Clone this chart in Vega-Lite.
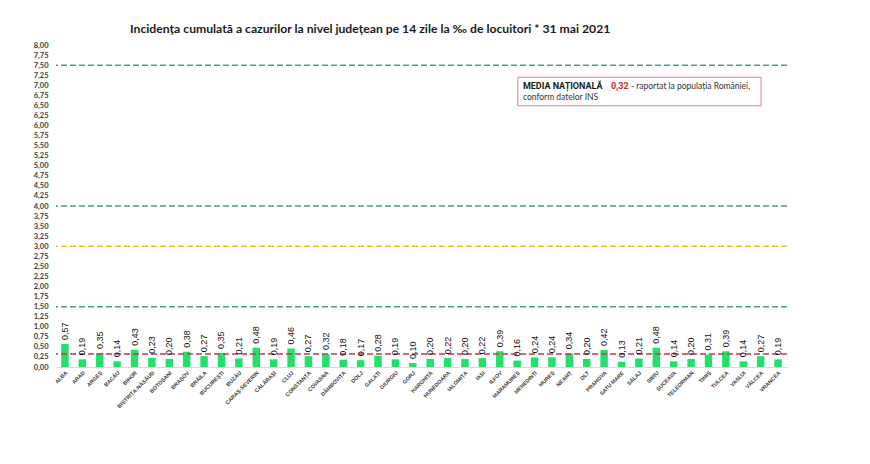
{
  "$schema": "https://vega.github.io/schema/vega-lite/v6.json",
  "width": 731,
  "height": 322,
  "autosize": {"type": "none"},
  "padding": {"left": 56, "top": 45, "right": 83, "bottom": 97},
  "background": "white",
  "config": {"view": {"stroke": null}, "font": "Lato"},
  "title": {
    "text": "Incidența cumulată a cazurilor la nivel județean pe 14 zile la ‰ de locuitori *  31 mai 2021",
    "anchor": "start",
    "frame": "group",
    "dx": 74,
    "offset": -7,
    "baseline": "bottom",
    "font": "Lato",
    "fontSize": 12.2,
    "fontWeight": "bold",
    "color": "#1a1a1a"
  },
  "data": {
    "values": [
      {"judet": "ALBA", "valoare": 0.57},
      {"judet": "ARAD", "valoare": 0.19},
      {"judet": "ARGEȘ", "valoare": 0.35},
      {"judet": "BACĂU", "valoare": 0.14},
      {"judet": "BIHOR", "valoare": 0.43},
      {"judet": "BISTRIȚA-NĂSĂUD", "valoare": 0.23},
      {"judet": "BOTOȘANI", "valoare": 0.20},
      {"judet": "BRAȘOV", "valoare": 0.38},
      {"judet": "BRĂILA", "valoare": 0.27},
      {"judet": "BUCUREȘTI", "valoare": 0.35},
      {"judet": "BUZĂU", "valoare": 0.21},
      {"judet": "CARAȘ-SEVERIN", "valoare": 0.48},
      {"judet": "CĂLĂRAȘI", "valoare": 0.19},
      {"judet": "CLUJ", "valoare": 0.46},
      {"judet": "CONSTANȚA", "valoare": 0.27},
      {"judet": "COVASNA", "valoare": 0.32},
      {"judet": "DÂMBOVIȚA", "valoare": 0.18},
      {"judet": "DOLJ", "valoare": 0.17},
      {"judet": "GALAȚI", "valoare": 0.28},
      {"judet": "GIURGIU", "valoare": 0.19},
      {"judet": "GORJ", "valoare": 0.10},
      {"judet": "HARGHITA", "valoare": 0.20},
      {"judet": "HUNEDOARA", "valoare": 0.22},
      {"judet": "IALOMIȚA", "valoare": 0.20},
      {"judet": "IAȘI", "valoare": 0.22},
      {"judet": "ILFOV", "valoare": 0.39},
      {"judet": "MARAMUREȘ", "valoare": 0.16},
      {"judet": "MEHEDINȚI", "valoare": 0.24},
      {"judet": "MUREȘ", "valoare": 0.24},
      {"judet": "NEAMȚ", "valoare": 0.34},
      {"judet": "OLT", "valoare": 0.20},
      {"judet": "PRAHOVA", "valoare": 0.42},
      {"judet": "SATU MARE", "valoare": 0.13},
      {"judet": "SĂLAJ", "valoare": 0.21},
      {"judet": "SIBIU", "valoare": 0.48},
      {"judet": "SUCEAVA", "valoare": 0.14},
      {"judet": "TELEORMAN", "valoare": 0.20},
      {"judet": "TIMIȘ", "valoare": 0.31},
      {"judet": "TULCEA", "valoare": 0.39},
      {"judet": "VASLUI", "valoare": 0.14},
      {"judet": "VÂLCEA", "valoare": 0.27},
      {"judet": "VRANCEA", "valoare": 0.19}
    ]
  },
  "encoding": {
    "x": {
      "field": "judet",
      "type": "nominal",
      "sort": null,
      "scale": {"paddingInner": 0.57, "paddingOuter": 0.3},
      "axis": {
        "title": null,
        "labelAngle": -45,
        "labelFontSize": 5.4,
        "labelFontWeight": "bold",
        "labelFont": "Liberation Sans",
        "labelColor": "#404040",
        "labelPadding": 3,
        "ticks": false,
        "domainColor": "#d9d9d9",
        "labelOverlap": false
      }
    },
    "y": {
      "field": "valoare",
      "type": "quantitative",
      "scale": {"domain": [0, 8], "nice": false},
      "axis": {
        "title": null,
        "values": [0, 0.25, 0.5, 0.75, 1, 1.25, 1.5, 1.75, 2, 2.25, 2.5, 2.75, 3, 3.25, 3.5, 3.75, 4, 4.25, 4.5, 4.75, 5, 5.25, 5.5, 5.75, 6, 6.25, 6.5, 6.75, 7, 7.25, 7.5, 7.75, 8],
        "labelExpr": "replace(format(datum.value, '.2f'), '.', ',')",
        "labelFontSize": 7.5,
        "labelFontWeight": "bold",
        "labelColor": "#404040",
        "labelPadding": 8,
        "ticks": false,
        "domain": false,
        "grid": false,
        "labelOverlap": false
      }
    }
  },
  "layer": [
    {
      "mark": {"type": "bar", "color": "#22e06b"}
    },
    {
      "data": {"values": [{"prag": 1.5}, {"prag": 4}, {"prag": 7.5}]},
      "mark": {"type": "rule", "color": "#4f9d84", "strokeDash": [6, 3], "strokeWidth": 1.5},
      "encoding": {"x": null, "y": {"field": "prag", "type": "quantitative"}}
    },
    {
      "data": {"values": [{"prag": 3}]},
      "mark": {"type": "rule", "color": "#d6cb2e", "strokeDash": [6, 3], "strokeWidth": 1.5},
      "encoding": {"x": null, "y": {"field": "prag", "type": "quantitative"}}
    },
    {
      "data": {"values": [{"prag": 0.32}]},
      "mark": {"type": "rule", "color": "#cf3347", "strokeDash": [6, 3], "strokeWidth": 1.5},
      "encoding": {"x": null, "y": {"field": "prag", "type": "quantitative"}}
    },
    {
      "transform": [
        {"calculate": "replace(format(datum.valoare, '.2f'), '.', ',')", "as": "eticheta"}
      ],
      "mark": {
        "type": "text",
        "angle": 270,
        "align": "left",
        "baseline": "middle",
        "dx": 4,
        "font": "Liberation Sans",
        "fontSize": 9,
        "color": "#111111"
      },
      "encoding": {
        "text": {"field": "eticheta"}
      }
    },
    {
      "transform": [{"filter": "datum.judet == 'MARAMUREȘ'"}],
      "mark": {"type": "rect", "fill": "white", "stroke": "#c9879a", "strokeWidth": 1},
      "encoding": {
        "x": {"field": "judet", "type": "nominal", "sort": null, "bandPosition": 0.6},
        "x2": {"datum": "VÂLCEA", "bandPosition": 0.55},
        "y": {"datum": 7.2},
        "y2": {"datum": 6.49}
      }
    },
    {
      "transform": [{"filter": "datum.judet == 'MARAMUREȘ'"}],
      "mark": {"type": "text", "align": "left", "baseline": "middle", "dx": 5, "font": "Roboto", "fontSize": 9, "fontWeight": "bold", "color": "#1a1a1a", "text": "MEDIA NAȚIONALĂ"},
      "encoding": {
        "x": {"field": "judet", "type": "nominal", "sort": null, "bandPosition": 0.6},
        "y": {"datum": 6.98}
      }
    },
    {
      "transform": [{"filter": "datum.judet == 'MARAMUREȘ'"}],
      "mark": {"type": "text", "align": "left", "baseline": "middle", "dx": 93, "font": "Roboto", "fontSize": 9, "fontWeight": "bold", "color": "#d9262e", "text": "0,32"},
      "encoding": {
        "x": {"field": "judet", "type": "nominal", "sort": null, "bandPosition": 0.6},
        "y": {"datum": 6.98}
      }
    },
    {
      "transform": [{"filter": "datum.judet == 'MARAMUREȘ'"}],
      "mark": {"type": "text", "align": "left", "baseline": "middle", "dx": 113, "fontSize": 8.5, "color": "#333333", "text": "- raportat la populația României,"},
      "encoding": {
        "x": {"field": "judet", "type": "nominal", "sort": null, "bandPosition": 0.6},
        "y": {"datum": 6.98}
      }
    },
    {
      "transform": [{"filter": "datum.judet == 'MARAMUREȘ'"}],
      "mark": {"type": "text", "align": "left", "baseline": "middle", "dx": 5, "fontSize": 8.5, "color": "#333333", "text": "conform datelor INS"},
      "encoding": {
        "x": {"field": "judet", "type": "nominal", "sort": null, "bandPosition": 0.6},
        "y": {"datum": 6.71}
      }
    }
  ]
}
